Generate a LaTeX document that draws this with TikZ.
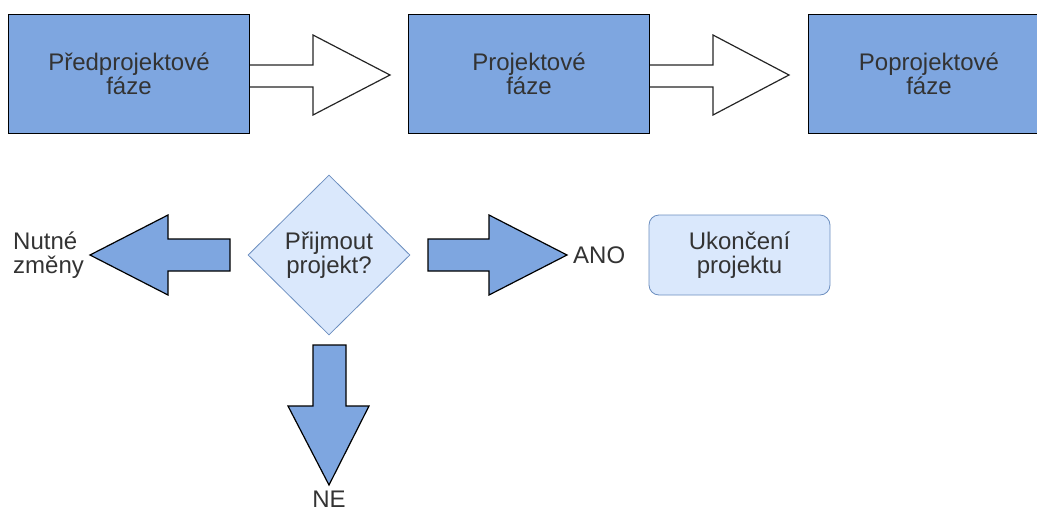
\documentclass[tikz,border=0pt]{standalone}
\usepackage{fontspec}
\setmainfont{Liberation Sans}
\usetikzlibrary{shapes.geometric}
\definecolor{boxblue}{HTML}{7EA6E0}
\definecolor{lightblue}{HTML}{DAE8FC}
\definecolor{edgeblue}{HTML}{6C8EBF}
\definecolor{txtgray}{HTML}{333333}
\newcommand\dfont{\fontsize{24}{23.5}\selectfont}
\begin{document}
\begin{tikzpicture}[x=1pt,y=-1pt,
  phase/.style={draw=black, line width=1.2pt, fill=boxblue, minimum width=241pt,
    minimum height=119pt, inner sep=0pt, align=center, text=txtgray, font=\dfont},
  hollow/.style={draw=black!85, line width=1.2pt, fill=white},
  blockarrow/.style={draw=black, line width=1.2pt, fill=boxblue, line join=miter},
  decision/.style={diamond, aspect=1, draw=edgeblue, line width=0.8pt, fill=lightblue,
    minimum width=162pt, minimum height=160pt, inner sep=0pt, align=center,
    text=txtgray, font=\dfont},
  endbox/.style={draw=edgeblue, line width=0.8pt, fill=lightblue, rounded corners=10pt,
    minimum width=181pt, minimum height=80pt, inner sep=0pt, align=center,
    text=txtgray, font=\dfont},
  lbl/.style={inner sep=0pt, text=txtgray, font=\dfont}]
\useasboundingbox (0,0) rectangle (1037,512);
\clip (0,0) rectangle (1037,512);

% hollow arrows between phases
\draw[hollow] (250,65) -- (313,65) -- (313,35) -- (390,75) -- (313,115) -- (313,87) -- (250,87);
\draw[hollow] (649,65) -- (713,65) -- (713,35) -- (789,75) -- (713,115) -- (713,87) -- (649,87);

% phase boxes
\node[phase] (p1) at (129,74) {Předprojektové\\fáze};
\node[phase] (p2) at (529,74) {Projektové\\fáze};
\node[phase] (p3) at (929,74) {Poprojektové\\fáze};

% decision
\node[decision] (d) at (329,255) {Přijmout\\projekt?};

% block arrows
\draw[blockarrow] (230,239) -- (168,239) -- (168,215) -- (90,255) -- (168,295) -- (168,271) -- (230,271) -- cycle;
\draw[blockarrow] (428,239) -- (489,239) -- (489,215) -- (567,255) -- (489,295) -- (489,271) -- (428,271) -- cycle;
\draw[blockarrow] (313,345) -- (313,406) -- (288,406) -- (329,485) -- (369,406) -- (346,406) -- (346,345) -- cycle;

% labels
\node[lbl, anchor=west, align=left] (nutne) at (13,255) {Nutné\\změny};
\node[lbl, anchor=west] (ano) at (573,255) {ANO};
\node[lbl] (ne) at (329,499) {NE};

% end box
\node[endbox] (u) at (739.5,255) {Ukončení\\projektu};
\end{tikzpicture}
\end{document}
